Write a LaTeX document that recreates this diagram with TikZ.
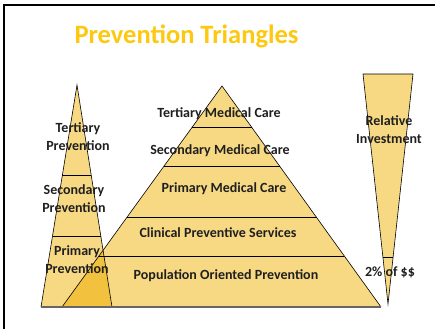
\documentclass[tikz,border=0pt]{standalone}
\usepackage{fontspec}
\setmainfont{Carlito}
\usetikzlibrary{calc}

\definecolor{tribody}{HTML}{F7D883}
\definecolor{trioverlap}{HTML}{F2C23E}
\definecolor{titlegold}{HTML}{FDC80F}

\begin{document}
\begin{tikzpicture}[x = 1pt, y = -1pt,
	label/.style = {font = \bfseries\fontsize{14}{18}\selectfont, text = black!88, align = center, inner sep = 0pt},
	edge/.style = {black, line width = 0.6pt}]

	% Frame
	
	\useasboundingbox (0, 0) rectangle (435, 329);
	\draw [line width = 1.5pt] (4, 329) -- (4, 5) -- (435, 5);
	
	% Title
	
	\node (title) [anchor = base, font = \bfseries\fontsize{26.5}{30}\selectfont, text = titlegold] at (186.5, 44) {Prevention Triangles};
	
	% Corners
	
	\coordinate (lA) at (77, 85);
	\coordinate (lL) at (41, 307);
	\coordinate (lR) at (112, 307);
	\coordinate (mA) at (222, 86);
	\coordinate (mL) at (62, 307);
	\coordinate (mR) at (381, 307);
	\coordinate (rA) at (388, 304);
	\coordinate (rL) at (363, 74);
	\coordinate (rR) at (413, 74);
	\coordinate (overlap) at (intersection of mL--mA and lA--lR);
	
	% Triangles
	
	\fill [tribody] (lA) -- (lL) -- (lR) -- cycle;
	\fill [tribody] (mA) -- (mL) -- (mR) -- cycle;
	\fill [trioverlap] (mL) -- (overlap) -- (lR) -- cycle;
	\fill [tribody] (rA) -- (rL) -- (rR) -- cycle;
	
	\draw [edge] (lL) -- (lA) -- (lR);
	\draw [edge] (mL) -- (mA) -- (mR);
	\draw [edge] (rA) -- (rL) -- (rR) -- cycle;
	\draw [gray!80!black, line width = 1.2pt] (lL) -- (mR);
	
	% Levels
	
	\foreach \t in {0.405, 0.680}
		\draw [edge] ($(lA)!\t!(lL)$) -- ($(lA)!\t!(lR)$);
	\foreach \t in {0.189, 0.365, 0.595, 0.770}
		\draw [edge] ($(mA)!\t!(mL)$) -- ($(mA)!\t!(mR)$);
	\draw [edge] ($(rA)!0.204!(rL)$) -- ($(rA)!0.204!(rR)$);
	
	% Labels
	
	\node (tertprev) [label] at (78, 137) {Tertiary\\Prevention};
	\node (secprev) [label] at (74, 199) {Secondary\\Prevention};
	\node (primprev) [label] at (77, 260) {Primary\\Prevention};
	
	\node (tertcare) [label] at (219, 114) {Tertiary Medical Care};
	\node (seccare) [label] at (220, 151) {Secondary Medical Care};
	\node (primcare) [label] at (224, 189) {Primary Medical Care};
	\node (clinical) [label] at (218, 233) {Clinical Preventive Services};
	\node (population) [label] at (226, 276) {Population Oriented Prevention};
	
	\node (investment) [label] at (389, 130) {Relative\\Investment};
	\node (share) [label] at (390, 272) {2\% of \$\$};

\end{tikzpicture}
\end{document}
